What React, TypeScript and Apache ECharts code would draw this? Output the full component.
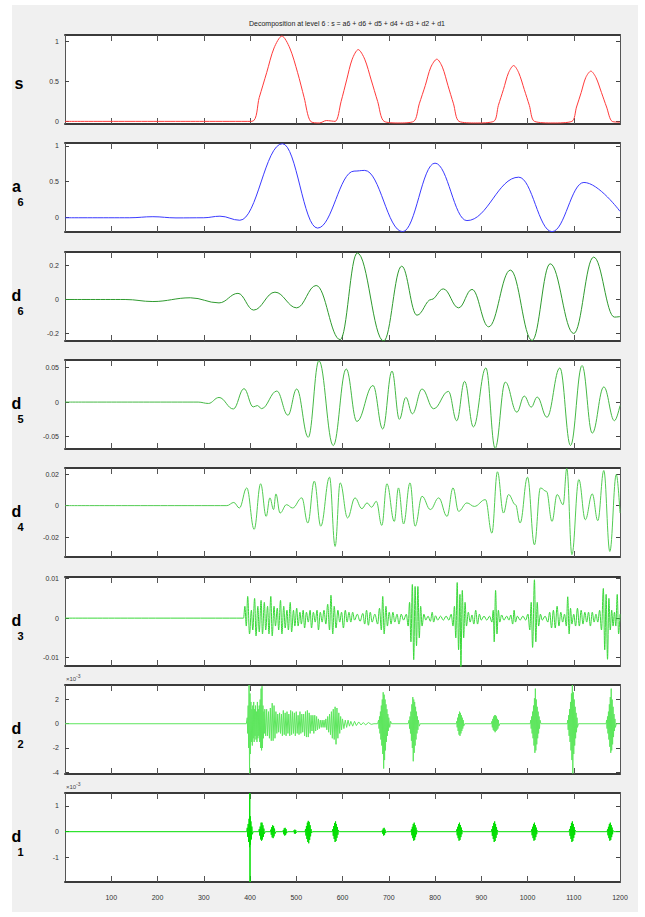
import React, { useEffect, useRef } from 'react';
import * as echarts from 'echarts';

type Pt = [number, number];

// ---------------- data (x = sample index, y = value) ----------------
const xTickStep = 100;
const xMin = 0;
const xMax = 1200;

const sSignal: Pt[] = [[0,0],[300,0],[404,0],[420,0.3],[436,0.61],[452,0.92],[469,1.07],[486,0.92],[503,0.61],[517,0.3],[531,0],[550,-0.02],[565,0.01],[584,0],[597,0.25],[609,0.52],[621,0.78],[634,0.9],[648,0.78],[662,0.52],[676,0.25],[690,0],[722,-0.02],[754,0],[766,0.22],[779,0.45],[791,0.68],[804,0.78],[816,0.68],[828,0.45],[840,0.22],[852,0],[888,-0.02],[927,0],[937,0.2],[948,0.4],[959,0.61],[970,0.7],[981,0.61],[993,0.4],[1004,0.2],[1015,0],[1055,-0.02],[1096,0],[1106,0.18],[1116,0.36],[1126,0.55],[1137,0.63],[1148,0.55],[1160,0.36],[1171,0.18],[1183,0],[1200,-0.01]];

const a6Signal: Pt[] = [[0,-0.01],[140,-0.01],[190,0.005],[240,-0.012],[300,-0.01],[335,0.012],[378,-0.045],[470,1.03],[546,-0.155],[625,0.645],[648,0.655],[730,-0.205],[800,0.757],[869,-0.05],[981,0.56],[1053,-0.205],[1122,0.486],[1200,0.08]];

const d6Signal: Pt[] = [[0,0],[130,0],[190,-0.012],[271,0.01],[333,-0.02],[374,0.036],[408,-0.062],[454,0.043],[501,-0.049],[543,0.082],[595,-0.235],[632,0.272],[689,-0.243],[728,0.195],[761,-0.092],[792,0.0],[818,0.062],[851,-0.049],[880,0.059],[916,-0.16],[963,0.172],[1010,-0.24],[1049,0.209],[1100,-0.199],[1143,0.248],[1188,-0.103],[1200,-0.1]];

const d5Signal: Pt[] = [[0,0],[288,0],[310,-0.002],[333,0.0067],[364,-0.01],[387,0.0195],[407,-0.007],[416,-0.005],[425,-0.0095],[458,0.016],[482,-0.019],[501,0.019],[526,-0.051],[549,0.06],[580,-0.063],[608,0.048],[631,-0.028],[666,0.024],[687,-0.039],[707,0.045],[723,-0.025],[737,0.0068],[751,-0.017],[772,0.019],[797,-0.0097],[829,0.0155],[847,-0.027],[864,0.03],[883,-0.036],[910,0.0495],[930,-0.067],[952,0.029],[977,-0.0146],[993,0.0087],[1008,-0.0073],[1021,0.0073],[1042,-0.022],[1070,0.0495],[1093,-0.063],[1118,0.053],[1140,-0.045],[1165,0.022],[1188,-0.027],[1200,-0.005]];

const d4Signal: Pt[] = [[0,0],[350,0],[365,0.002],[377,-0.0015],[393,0.0112],[409,-0.015],[423,0.0138],[435,-0.0068],[443,0.0049],[451,-0.0025],[456,0.0074],[465,-0.0047],[479,0.0006],[492,-0.0015],[512,0.0049],[525,-0.011],[539,0.0155],[553,-0.013],[572,0.018],[584,-0.0258],[595,0.0144],[611,-0.0078],[627,0.0049],[642,-0.0019],[653,0.0017],[663,-0.001],[673,0.0027],[685,-0.0125],[696,0.0138],[712,-0.01],[721,0.0112],[732,-0.0116],[746,0.0144],[757,-0.013],[772,0.0059],[790,-0.0025],[808,0.0049],[826,-0.0068],[839,0.0112],[851,-0.0036],[869,0.0017],[885,-0.0005],[909,0.0038],[923,-0.0174],[935,0.0214],[948,-0.0047],[959,0.007],[974,0.0006],[984,-0.011],[1000,0.018],[1015,-0.0248],[1028,0.0112],[1041,0.009],[1053,-0.01],[1064,0.007],[1077,0.0006],[1085,0.0235],[1096,-0.031],[1111,0.0165],[1125,-0.0089],[1140,0.0074],[1152,-0.0095],[1165,0.0222],[1178,-0.029],[1192,0.0197],[1200,-0.0047]];

// d3 values in units of 1e-3
const d3SignalMilli: Pt[] = [[0,0],[386,0],[389,3],[392,-2],[395,5.5],[399,-4],[403,2],[406,-3],[410,5],[413,-4.5],[417,3],[420,-3.5],[424,4.5],[427,-4],[431,4],[434,-3],[438,3],[441,-4],[445,5.5],[448,-4.5],[452,3],[455,-2],[459,2.5],[462,-3],[466,4.5],[469,-4],[473,3],[476,-2.5],[480,2],[483,-3],[487,4],[490,-3.5],[494,2],[497,-2],[501,2.5],[504,-2],[508,1.5],[511,-1.5],[515,2],[518,-2.5],[522,1.5],[526,-1],[530,2],[533,-2.5],[537,1.5],[541,-1],[545,2],[548,-3],[552,1.5],[556,-1],[560,2],[564,-1.5],[568,3.5],[572,-3],[575,5.8],[579,-4],[582,3],[586,-2.5],[590,2],[594,-1],[598,1.5],[602,-2.5],[606,2],[610,-1],[614,1.5],[618,-1],[622,1.5],[626,-0.5],[632,1],[638,-0.8],[644,1.2],[648,-1.5],[652,2],[656,-1.8],[660,1.5],[664,-1],[670,1],[676,-1.5],[680,2.5],[684,-3],[687,5.5],[690,-4],[694,3],[697,-2],[701,1.5],[705,-1.5],[709,1.5],[713,-1],[718,1],[722,-1.5],[727,1],[732,-0.5],[738,1],[742,-2],[745,4],[748,-6],[751,8.5],[754,-10.5],[757,8],[760,-7],[763,8],[766,-5],[769,3],[772,-2],[776,1],[780,-0.5],[785,0.5],[790,-0.8],[794,1.5],[797,-1],[801,0.6],[806,-0.5],[812,0.5],[818,-0.5],[824,0.5],[830,-0.5],[835,1],[839,-2],[842,3],[845,-5],[848,9],[851,-8],[854,6],[856,-12.4],[859,7],[862,-5],[865,4],[868,-2],[872,1.5],[876,-1],[880,0.8],[884,-1.5],[888,2],[892,-1.5],[896,1],[900,-0.5],[906,0.5],[912,-0.5],[918,0.5],[923,-1],[926,2],[928,-6],[931,7],[934,-4],[937,2],[940,-1],[944,0.8],[949,-0.5],[955,0.5],[960,-0.5],[964,0.8],[968,-1.5],[971,2],[974,-1],[978,0.5],[984,-0.5],[990,0.5],[996,-0.5],[1001,1],[1005,-3],[1008,4],[1011,-7.4],[1015,9.7],[1018,-6],[1021,4],[1024,-2],[1028,1],[1032,-0.5],[1038,0.5],[1044,-1],[1048,1.5],[1052,-2.5],[1056,2],[1060,-2.5],[1064,3],[1068,-2],[1072,1.5],[1076,-1],[1080,1],[1084,-2],[1087,5.4],[1090,-4],[1093,2.5],[1096,-1.5],[1100,1],[1104,-2],[1108,2.5],[1112,-2],[1116,2],[1120,-1.5],[1124,1.5],[1128,-1],[1132,1.5],[1136,-2],[1140,1.5],[1144,-1],[1148,1],[1152,-1],[1156,2],[1160,-3],[1164,7.5],[1167,-8],[1170,6],[1173,-10.4],[1176,5],[1179,-3],[1182,2],[1185,-2],[1188,1.5],[1191,-2],[1194,6],[1197,-4],[1200,1]];

// d2 values in units of 1e-3
const d2Signal: Pt[] = [[0,0],[392,0],
[394,0.5],[395,-0.8],[396,1.5],[397,-2],[398,3.2],[399,-4.1],[400,2.5],[401,-2.5],[402,1.8],[403,-1.5],[404,1.2],[405,-1.8],[406,1.5],[407,-1.2],[408,1.8],[409,-1.5],[410,1.2],[411,-1],[412,1.5],[413,-1.3],[414,1],[415,-1.5],[416,1.8],[417,-1.2],[418,1.2],[419,-1],[420,1.5],[421,-1.5],[422,2],[423,-2],[424,2.9],[425,-2.2],[426,3.1],[427,-2],[428,1.5],[429,-1.2],[430,1],[431,-0.8],[432,1.2],[434,-1],[436,1.2],[438,-1],[440,1],[442,-1.2],[444,1.3],[446,-1.4],[448,1.7],[450,-1.4],[452,1.5],[454,-1.2],[456,1],[458,-0.8],[460,0.8],[462,-0.7],[464,0.9],[466,-0.8],[468,0.8],[470,-1],[472,1.1],[474,-0.9],[476,0.9],[478,-1],[480,1],[482,-0.8],[484,0.8],[486,-1],[488,1.1],[490,-0.9],[492,1],[494,-0.8],[496,0.9],[498,-1],[500,1],[502,-0.8],[504,0.7],[506,-0.9],[508,1],[510,-0.8],[512,0.8],[514,-0.7],[516,0.8],[518,-1],[520,1],[522,-1.1],[524,1.1],[526,-1.1],[528,0.9],[530,-0.8],[532,0.7],[534,-0.6],[536,0.7],[538,-0.8],[540,0.7],[542,-0.6],[544,0.6],[546,-0.5],[548,0.4],[550,-0.4],[552,0.3],[554,-0.3],[556,0.3],[558,-0.3],[560,0.3],[562,-0.3],[564,0.4],[566,-0.5],[568,0.6],[570,-0.7],[572,0.8],[574,-0.9],[576,1],[578,-1.2],[580,1.2],[582,-1.3],[584,1.4],[586,-1.7],[588,1.3],[590,-1.2],[592,0.9],[594,-0.8],[596,0.6],[598,-0.5],[600,0.4],[603,-0.4],[606,0.3],[609,-0.3],[612,0.3],[615,-0.2],[618,0.2],[622,-0.2],[626,0.2],[630,-0.15],[635,0.15],[640,-0.1],[645,0.1],[650,-0.1],[656,0.1],[662,-0.05],[668,0],
[676,0],[678,0.3],[679,-0.4],[680,0.6],[681,-0.8],[682,1],[683,-1.3],[684,1.5],[685,-1.8],[686,2],[687,-2.5],[688,2.6],[689,-3.7],[690,2.4],[691,-3],[692,2],[693,-2.2],[694,1.6],[695,-1.5],[696,1.2],[697,-1],[698,0.8],[699,-0.6],[700,0.5],[702,-0.3],[704,0.2],[706,0],
[742,0],[744,0.3],[745,-0.4],[746,0.6],[747,-0.8],[748,1],[749,-1.4],[750,1.6],[751,-2],[752,2.2],[753,-3.1],[754,2],[755,-2.4],[756,1.8],[757,-1.8],[758,1.4],[759,-1.3],[760,1],[761,-0.8],[762,0.6],[763,-0.5],[764,0.3],[766,-0.2],[768,0],
[846,0],[847,0.2],[848,-0.3],[849,0.5],[850,-0.6],[851,0.8],[852,-0.9],[853,1],[854,-1],[855,0.9],[856,-0.8],[857,0.7],[858,-0.6],[859,0.5],[860,-0.4],[861,0.3],[862,-0.2],[864,0],
[922,0],[923,0.2],[924,-0.3],[925,0.4],[926,-0.5],[927,0.6],[928,-0.6],[929,0.7],[930,-0.7],[931,0.7],[932,-0.6],[933,0.6],[934,-0.5],[935,0.4],[936,-0.4],[937,0.3],[938,-0.2],[940,0],
[1006,0],[1007,0.3],[1008,-0.4],[1009,0.6],[1010,-0.8],[1011,1],[1012,-1.2],[1013,1.5],[1014,-1.8],[1015,2.1],[1016,-2.4],[1017,2.9],[1018,-2.2],[1019,2],[1020,-1.7],[1021,1.4],[1022,-1.2],[1023,1],[1024,-0.8],[1025,0.6],[1026,-0.4],[1027,0.3],[1029,0],
[1086,0],[1087,0.3],[1088,-0.5],[1089,0.7],[1090,-1],[1091,1.2],[1092,-1.5],[1093,1.8],[1094,-2.2],[1095,2.5],[1096,-3],[1097,3.2],[1098,-4.1],[1099,2.6],[1100,-2.5],[1101,2],[1102,-1.8],[1103,1.4],[1104,-1.2],[1105,0.9],[1106,-0.7],[1107,0.5],[1108,-0.3],[1110,0],
[1170,0],[1171,0.3],[1172,-0.4],[1173,0.6],[1174,-0.8],[1175,1],[1176,-1.3],[1177,1.6],[1178,-1.9],[1179,2.2],[1180,-2.4],[1181,2.9],[1182,-2.2],[1183,2],[1184,-1.7],[1185,1.4],[1186,-1.1],[1187,0.8],[1188,-0.6],[1189,0.4],[1190,-0.3],[1192,0],[1200,0]];

// d1 values in units of 1e-3
const d1Signal: Pt[] = [[0,0],[393,0],[394,0.15],[395,-0.2],[396,0.3],[397,-0.4],[398,0.5],[399,-0.6],[399.5,1.5],[400,-1.95],[400.5,0.6],[401,-0.5],[402,0.4],[403,-0.3],[404,0.2],[405,-0.1],[407,0],
[419,0],[420,0.1],[421,-0.15],[422,0.2],[423,-0.3],[424,0.35],[425,-0.35],[426,0.35],[427,-0.3],[428,0.25],[429,-0.2],[430,0.12],[431,-0.08],[433,0],
[444,0],[445,0.08],[446,-0.12],[447,0.18],[448,-0.22],[449,0.25],[450,-0.25],[451,0.22],[452,-0.18],[453,0.12],[454,-0.08],[456,0],
[471,0],[472,0.06],[473,-0.1],[474,0.13],[475,-0.15],[476,0.15],[477,-0.13],[478,0.1],[479,-0.06],[481,0],
[494,0],[495,0.05],[496,-0.07],[497,0.08],[498,-0.08],[499,0.06],[500,-0.04],[502,0],
[519,0],[520,0.1],[521,-0.15],[522,0.22],[523,-0.28],[524,0.35],[525,-0.4],[526,0.42],[527,-0.45],[528,0.38],[529,-0.32],[530,0.25],[531,-0.18],[532,0.1],[533,-0.05],[535,0],
[578,0],[579,0.1],[580,-0.16],[581,0.22],[582,-0.28],[583,0.34],[584,-0.4],[585,0.4],[586,-0.36],[587,0.3],[588,-0.24],[589,0.18],[590,-0.12],[591,0.06],[593,0],
[685,0],[686,0.05],[687,-0.08],[688,0.12],[689,-0.15],[690,0.15],[691,-0.12],[692,0.08],[693,-0.05],[695,0],
[748,0],[749,0.09],[750,-0.14],[751,0.19],[752,-0.25],[753,0.3],[754,-0.35],[755,0.35],[756,-0.32],[757,0.26],[758,-0.21],[759,0.16],[760,-0.1],[761,0.05],[763,0],
[846,0],[847,0.09],[848,-0.14],[849,0.19],[850,-0.25],[851,0.3],[852,-0.35],[853,0.35],[854,-0.32],[855,0.26],[856,-0.21],[857,0.16],[858,-0.1],[859,0.05],[861,0],
[922,0],[923,0.1],[924,-0.16],[925,0.22],[926,-0.28],[927,0.34],[928,-0.4],[929,0.4],[930,-0.36],[931,0.3],[932,-0.24],[933,0.18],[934,-0.12],[935,0.06],[937,0],
[1008,0],[1009,0.09],[1010,-0.14],[1011,0.19],[1012,-0.25],[1013,0.3],[1014,-0.35],[1015,0.35],[1016,-0.32],[1017,0.26],[1018,-0.21],[1019,0.16],[1020,-0.1],[1021,0.05],[1023,0],
[1090,0],[1091,0.1],[1092,-0.16],[1093,0.22],[1094,-0.28],[1095,0.34],[1096,-0.4],[1097,0.4],[1098,-0.36],[1099,0.3],[1100,-0.24],[1101,0.18],[1102,-0.12],[1103,0.06],[1105,0],
[1172,0],[1173,0.09],[1174,-0.14],[1175,0.19],[1176,-0.25],[1177,0.3],[1178,-0.35],[1179,0.35],[1180,-0.32],[1181,0.26],[1182,-0.21],[1183,0.16],[1184,-0.1],[1185,0.05],[1187,0],[1200,0]];

const sTicks = [0, 0.5, 1];
const a6Ticks = [0, 0.5, 1];
const d6Ticks = [-0.2, 0, 0.2];
const d5Ticks = [-0.05, 0, 0.05];
const d4Ticks = [-0.02, 0, 0.02];
const d3Ticks = [-0.01, 0, 0.01];
const d2Ticks = [-4, -2, 0, 2];
const d1Ticks = [-1, 0, 1];

const titleText = 'Decomposition at level 6 : s = a6 + d6 + d5 + d4 + d3 + d2 + d1';

// ---------------- layout & style ----------------
const SMALL_FONT = '"Liberation Sans Narrow", "Liberation Sans", Arial, sans-serif';
const LABEL_FONT = '"Liberation Sans Narrow", "Liberation Sans", sans-serif';
const GRID_LEFT = 65;
const GRID_WIDTH = 555;
const GRID_H = 89;
const GRID_TOPS = [35, 143, 252, 360, 468, 577, 685, 793];

const d3Signal: Pt[] = d3SignalMilli.map(([x, y]) => [x, y / 1000]);

type SmoothMode = 'mono' | 'plain' | 'none';
const panels: { main: string; sub: string; color: string; min: number; max: number; ticks: number[]; data: Pt[]; smooth: SmoothMode; exp: boolean }[] = [
  { main: 's', sub: '', color: '#ff3a3a', min: -0.033, max: 1.083, ticks: sTicks, data: sSignal, smooth: 'plain', exp: false },
  { main: 'a', sub: '6', color: '#3a3aff', min: -0.21, max: 1.04, ticks: a6Ticks, data: a6Signal, smooth: 'mono', exp: false },
  { main: 'd', sub: '6', color: '#2f9a2f', min: -0.243, max: 0.278, ticks: d6Ticks, data: d6Signal, smooth: 'mono', exp: false },
  { main: 'd', sub: '5', color: '#45b845', min: -0.068, max: 0.061, ticks: d5Ticks, data: d5Signal, smooth: 'mono', exp: false },
  { main: 'd', sub: '4', color: '#52cc52', min: -0.0325, max: 0.0238, ticks: d4Ticks, data: d4Signal, smooth: 'mono', exp: false },
  { main: 'd', sub: '3', color: '#3ad83a', min: -0.0121, max: 0.0104, ticks: d3Ticks, data: d3Signal, smooth: 'mono', exp: false },
  { main: 'd', sub: '2', color: '#5ee65e', min: -4.15, max: 3.2, ticks: d2Ticks, data: d2Signal, smooth: 'none', exp: true },
  { main: 'd', sub: '1', color: '#00dd00', min: -1.95, max: 1.5, ticks: d1Ticks, data: d1Signal, smooth: 'none', exp: true },
];

function buildOption() {
  const grid: any[] = [];
  const xAxis: any[] = [];
  const yAxis: any[] = [];
  const series: any[] = [];
  const graphic: any[] = [];
  const last = panels.length - 1;

  panels.forEach((p, i) => {
    const top = GRID_TOPS[i];
    grid.push({ left: GRID_LEFT, top, width: GRID_WIDTH, height: GRID_H, show: true, backgroundColor: '#ffffff', borderWidth: 0 });
    const xBase = {
      type: 'value', gridIndex: i, min: xMin, max: xMax, interval: xTickStep,
      splitLine: { show: false },
      axisLine: { show: true, onZero: false, lineStyle: { color: '#3a3a3a', width: 2 } },
      axisTick: { show: true, inside: true, length: 6, lineStyle: { color: '#555', width: 1 } },
    };
    xAxis.push({ ...xBase, position: 'bottom',
      axisLabel: { show: i === last, showMinLabel: false, fontSize: 7, color: '#333', margin: 12, fontFamily: SMALL_FONT,
        formatter: (v: number) => String(v) } });
    xAxis.push({ ...xBase, position: 'top', axisLabel: { show: false } });

    const yBase = {
      type: 'value', gridIndex: i, min: p.min, max: p.max,
      splitLine: { show: false },
      axisLine: { show: true, onZero: false, lineStyle: { color: '#555', width: 1 } },
      axisTick: { show: true, inside: true, length: 4, customValues: p.ticks, lineStyle: { color: '#444', width: 1 } },
    };
    yAxis.push({ ...yBase, position: 'left',
      axisLabel: { show: true, customValues: p.ticks, fontSize: 7, color: '#333', margin: 6, fontFamily: SMALL_FONT,
        formatter: (v: number) => String(v) } });
    yAxis.push({ ...yBase, position: 'right', axisLabel: { show: false } });

    const s: any = {
      type: 'line', xAxisIndex: 2 * i, yAxisIndex: 2 * i, data: p.data,
      symbol: 'none', showSymbol: false, silent: true,
      lineStyle: { color: p.color, width: 1 },
    };
    if (p.smooth === 'mono') { s.smooth = 0.4; s.smoothMonotone = 'x'; }
    else if (p.smooth === 'plain') { s.smooth = 0.3; }
    else { s.smooth = false; }
    series.push(s);

    const cy = top + GRID_H / 2;
    if (p.sub) {
      graphic.push({ type: 'text', x: 16.5, y: cy - 1, style: { text: p.main, font: 'bold 16px ' + LABEL_FONT, fill: '#000', align: 'center', verticalAlign: 'middle' } });
      graphic.push({ type: 'text', x: 20.5, y: cy + 14, style: { text: p.sub, font: 'bold 11px ' + LABEL_FONT, fill: '#000', align: 'center', verticalAlign: 'middle' } });
    } else {
      graphic.push({ type: 'text', x: 19, y: cy + 4, style: { text: p.main, font: 'bold 16px ' + LABEL_FONT, fill: '#000', align: 'center', verticalAlign: 'middle' } });
    }
    if (p.exp) {
      graphic.push({ type: 'text', x: 66, y: top - 6, style: { text: '×10', font: '6px ' + SMALL_FONT, fill: '#444', align: 'left', verticalAlign: 'middle' } });
      graphic.push({ type: 'text', x: 76, y: top - 9, style: { text: '-3', font: '5px ' + SMALL_FONT, fill: '#444', align: 'left', verticalAlign: 'middle' } });
    }
  });

  graphic.push({ type: 'text', x: 347, y: 23, style: { text: titleText, font: '7px ' + SMALL_FONT, fill: '#222', align: 'center', verticalAlign: 'middle' } });

  return { animation: false, grid, xAxis, yAxis, series, graphic };
}

export default function App() {
  const ref = useRef<HTMLDivElement>(null);
  useEffect(() => {
    if (!ref.current) return;
    const chart = echarts.init(ref.current, undefined, { renderer: 'svg' });
    chart.setOption(buildOption() as any);
    return () => chart.dispose();
  }, []);
  return (
    <div style={{ position: 'fixed', left: 0, top: 0, width: 645, height: 917, background: '#ffffff', overflow: 'hidden' }}>
      <div style={{ position: 'absolute', left: 12, top: 5, width: 626, height: 907, background: '#f0f0f0' }} />
      <div ref={ref} style={{ position: 'absolute', left: 0, top: 0, width: 645, height: 917 }} />
    </div>
  );
}
